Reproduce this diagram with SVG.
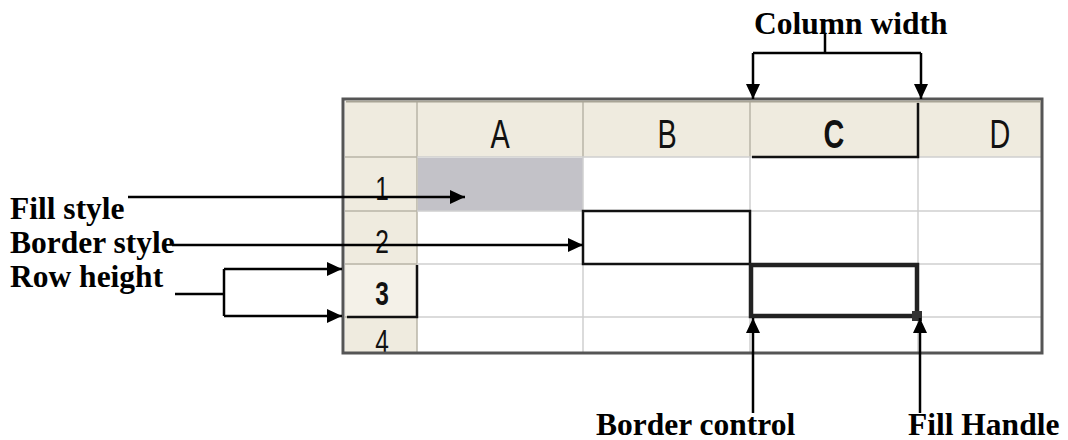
<svg xmlns="http://www.w3.org/2000/svg" width="1068" height="440" viewBox="0 0 1068 440">
<style>
.lbl{font-family:"Liberation Serif","Times New Roman",serif;font-weight:bold;font-size:31.5px;fill:#000}
.hdr{font-family:"Liberation Sans",Arial,sans-serif;font-size:40px;fill:#111;text-anchor:middle}
.grid{stroke:#cfcfcf;stroke-width:1.5;fill:none}
.hgrid{stroke:#b9b5a8;stroke-width:1.5;fill:none}
.conn{stroke:#000;stroke-width:2.5;fill:none}
</style>
<defs>
<marker id="ah" markerUnits="userSpaceOnUse" markerWidth="16" markerHeight="14" refX="15" refY="7" orient="auto">
<path d="M0,0 L15,7 L0,14 Z" fill="#000"/>
</marker>
<clipPath id="sheetclip"><rect x="344" y="100" width="698" height="252"/></clipPath>
</defs>
<rect width="1068" height="440" fill="#fff"/>
<g id="sheet">
<g clip-path="url(#sheetclip)">
<rect x="344" y="100" width="698" height="252" fill="#fff"/>
<rect x="345" y="101" width="696" height="56" fill="#efebdf"/>
<rect x="345" y="101" width="72" height="251" fill="#efebdf"/>
<rect x="346" y="265" width="70" height="51" fill="#f4f1e8"/>
<rect id="fill-a1" x="418" y="158" width="165" height="53" fill="#c3c2c8"/>
<path class="hgrid" d="M417 101V352M583 101V157M750 101V157M918 101V157M345 157H417M345 211H417M345 264H417M345 317H417"/>
<path class="grid" d="M583 157V352M750 157V352M918 157V352M417 157H1041M417 211H1041M417 264H1041M417 317H1041"/>
<path d="M752 157H918V103" stroke="#111" stroke-width="2.5" fill="none"/>
<path d="M347 317H417V265" stroke="#111" stroke-width="2.5" fill="none"/>
<text class="hdr" transform="translate(500,148) scale(0.72,1)">A</text>
<text class="hdr" transform="translate(667,148) scale(0.72,1)">B</text>
<text class="hdr" transform="translate(834,148) scale(0.72,1)" style="font-weight:bold">C</text>
<text class="hdr" transform="translate(1000,148) scale(0.72,1)">D</text>
<text class="hdr" transform="translate(382,200) scale(0.72,1)" style="font-size:34px">1</text>
<text class="hdr" transform="translate(382,253) scale(0.72,1)" style="font-size:34px">2</text>
<text class="hdr" transform="translate(382,305) scale(0.72,1)" style="font-size:34px;font-weight:bold">3</text>
<text class="hdr" transform="translate(382,353) scale(0.72,1)" style="font-size:34px">4</text>
</g>
<rect x="343" y="99" width="699" height="254" fill="none" stroke="#555" stroke-width="3"/>
<line x1="346" y1="101.5" x2="1041" y2="101.5" stroke="#a8a496" stroke-width="2"/>
<rect id="border-b2" x="583" y="211" width="167" height="53" fill="none" stroke="#111" stroke-width="2.5"/>
<rect id="border-c3" x="751" y="265" width="166" height="51" fill="none" stroke="#222" stroke-width="4.5"/>
<rect id="fill-handle" x="912" y="311" width="10" height="10" fill="#333"/>
</g>
<g id="labels">
<text id="t-colwidth" class="lbl" x="754" y="34">Column width</text>
<text id="t-fill" class="lbl" x="10" y="219">Fill style</text>
<text id="t-border" class="lbl" x="10" y="253">Border style</text>
<text id="t-row" class="lbl" x="10" y="287">Row height</text>
<text id="t-bctrl" class="lbl" x="596" y="435">Border control</text>
<text id="t-fh" class="lbl" x="908" y="435">Fill Handle</text>
</g>
<g id="connectors">
<path class="conn" d="M825 33V53"/>
<path class="conn" d="M753 53H921"/>
<path class="conn" d="M753 53V99" marker-end="url(#ah)"/>
<path class="conn" d="M921 53V99" marker-end="url(#ah)"/>
<path class="conn" d="M128 197H465" marker-end="url(#ah)"/>
<path class="conn" d="M172 245H583" marker-end="url(#ah)"/>
<path class="conn" d="M175 294H224"/>
<path class="conn" d="M224 269V316"/>
<path class="conn" d="M224 269H342" marker-end="url(#ah)"/>
<path class="conn" d="M224 316H342" marker-end="url(#ah)"/>
<path class="conn" d="M753 413V318" marker-end="url(#ah)"/>
<path class="conn" d="M920 413V318" marker-end="url(#ah)"/>
</g>
</svg>
